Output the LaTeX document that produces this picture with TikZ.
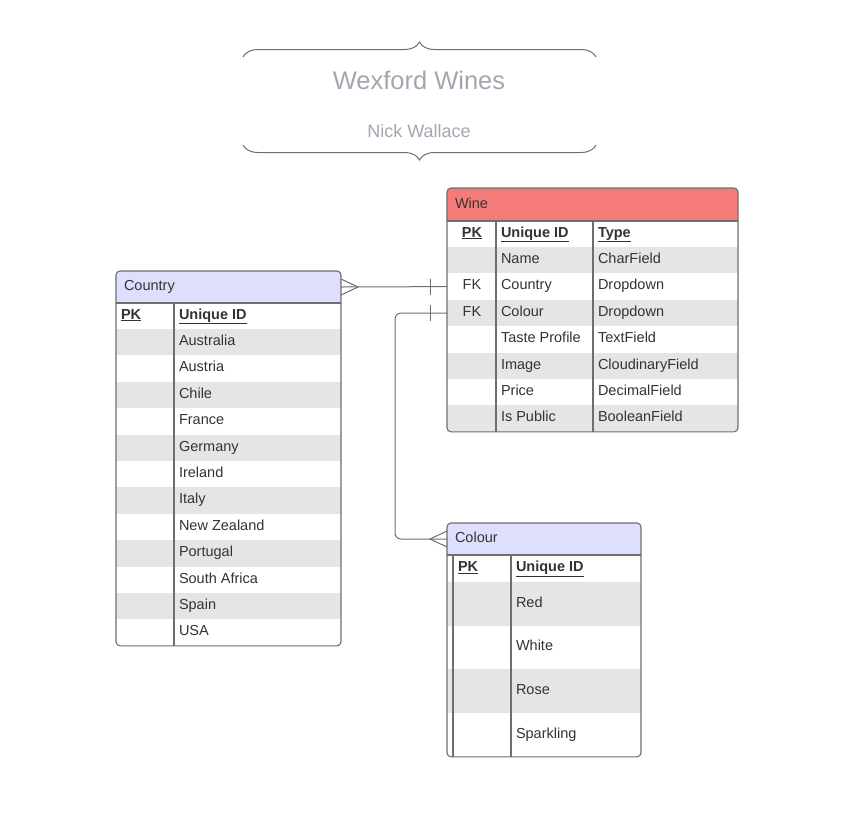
\documentclass[tikz,border=0pt]{standalone}
\usepackage{fontspec}
\setmainfont{Liberation Sans}
\usetikzlibrary{positioning, calc, decorations.pathreplacing}

\definecolor{winered}{HTML}{F47B77}
\definecolor{headblue}{HTML}{DEDEFD}
\definecolor{rowgrey}{HTML}{E5E5E5}
\definecolor{edgegrey}{HTML}{6E6E6E}
\definecolor{inkgrey}{HTML}{333333}
\definecolor{titlegrey}{HTML}{A2A6AF}

\begin{document}
\begin{tikzpicture}[
    x=1pt, y=-1pt, % one unit per pixel, y going down
    every node/.style={outer sep=0pt, text=inkgrey, font=\fontsize{14.5}{17}\selectfont},
    headbox/.style={rectangle, minimum height=32pt, inner sep=0pt},
    rowbox/.style={rectangle, minimum height=26.4pt, inner sep=0pt},
    cell/.style={inner sep=0pt, text height=10.4pt, text depth=0pt},
    frame/.style={draw=edgegrey, line width=1.1pt},
    link/.style={draw=edgegrey, line width=1pt},
    curly/.style={draw=edgegrey, line width=1pt, decorate, decoration={brace, amplitude=15pt}}
]
    \useasboundingbox (0,0) rectangle (854,815);

    % Title block
    \node[text=titlegrey, font=\fontsize{25.5}{30}\selectfont] (title) at (419,80) {Wexford Wines};
    \node[text=titlegrey, font=\fontsize{18}{22}\selectfont] (author) at (419,131) {Nick Wallace};
    \draw[curly] (243,57) -- (596,57);
    \draw[curly] (596,145) -- (243,145);

    % Wine table
    \begin{scope}
        \clip[rounded corners=4pt] (447,188) rectangle (738,432);
        \node[headbox, fill=winered, minimum width=291pt, minimum height=33pt, anchor=north west] (winehead) at (447,188) {};
        \node[rowbox, minimum width=291pt, minimum height=26pt, below=0pt of winehead] (wine0) {};
        \foreach \shade/\key/\field/\kind [count=\i] in {rowgrey/{}/Name/CharField, white/FK/Country/Dropdown,
            rowgrey/FK/Colour/Dropdown, white/{}/Taste Profile/TextField, rowgrey/{}/Image/CloudinaryField,
            white/{}/Price/DecimalField, rowgrey/{}/Is Public/BooleanField} {
            \pgfmathtruncatemacro\prev{\i-1}
            \node[rowbox, fill=\shade, minimum width=291pt, below=0pt of wine\prev] (wine\i) {};
            \node[cell] (winekey\i) at ([xshift=25pt, yshift=2pt]wine\i.west) {\key};
            \node[cell, anchor=west] (winefield\i) at ([xshift=54pt, yshift=2pt]wine\i.west) {\field};
            \node[cell, anchor=west] (winekind\i) at ([xshift=151pt, yshift=2pt]wine\i.west) {\kind};
        }
    \end{scope}
    \node[cell, anchor=west] (winetitle) at ([xshift=8pt, yshift=1.5pt]winehead.west) {Wine};
    \node[cell] (winepk) at ([xshift=25pt, yshift=2pt]wine0.west) {\underline{\textbf{PK}}};
    \node[cell, anchor=west] (wineid) at ([xshift=54pt, yshift=2pt]wine0.west) {\underline{\textbf{Unique ID}}};
    \node[cell, anchor=west] (winetype) at ([xshift=151pt, yshift=2pt]wine0.west) {\underline{\textbf{Type}}};
    \draw[frame] (winehead.south west) -- (winehead.south east);
    \draw[frame] ([xshift=49pt]wine0.north west) -- ([xshift=49pt]wine7.south west);
    \draw[frame] ([xshift=146pt]wine0.north west) -- ([xshift=146pt]wine7.south west);
    \draw[frame, rounded corners=4pt] (winehead.north west) rectangle (wine7.south east);

    % Country table
    \begin{scope}
        \clip[rounded corners=4pt] (116,271) rectangle (341,646);
        \node[headbox, fill=headblue, minimum width=225pt, anchor=north west] (countryhead) at (116,271) {};
        \node[rowbox, minimum width=225pt, minimum height=26pt, below=0pt of countryhead] (country0) {};
        \foreach \place [count=\i] in {Australia, Austria, Chile, France, Germany, Ireland, Italy,
            New Zealand, Portugal, South Africa, Spain, USA} {
            \pgfmathtruncatemacro\prev{\i-1}
            \ifodd\i \def\shade{rowgrey}\else \def\shade{white}\fi
            \node[rowbox, fill=\shade, minimum width=225pt, below=0pt of country\prev] (country\i) {};
            \node[cell, anchor=west] (countryname\i) at ([xshift=63pt, yshift=2pt]country\i.west) {\place};
        }
    \end{scope}
    \node[cell, anchor=west] (countrytitle) at ([xshift=8pt, yshift=1.5pt]countryhead.west) {Country};
    \node[cell, anchor=west] (countrypk) at ([xshift=5pt, yshift=2pt]country0.west) {\underline{\textbf{PK}}};
    \node[cell, anchor=west] (countryid) at ([xshift=63pt, yshift=2pt]country0.west) {\underline{\textbf{Unique ID}}};
    \draw[frame] (countryhead.south west) -- (countryhead.south east);
    \draw[frame] ([xshift=58pt]country0.north west) -- ([xshift=58pt]country12.south west);
    \draw[frame, rounded corners=4pt] (countryhead.north west) rectangle (country12.south east);

    % Colour table
    \begin{scope}
        \clip[rounded corners=4pt] (447,523) rectangle (641,757);
        \node[headbox, fill=headblue, minimum width=194pt, anchor=north west] (colourhead) at (447,523) {};
        \node[rowbox, minimum width=194pt, minimum height=27pt, below=0pt of colourhead] (colour0) {};
        \foreach \hue [count=\i] in {Red, White, Rose, Sparkling} {
            \pgfmathtruncatemacro\prev{\i-1}
            \ifodd\i \def\shade{rowgrey}\else \def\shade{white}\fi
            \node[rowbox, fill=\shade, minimum width=194pt, minimum height=43.7pt, below=0pt of colour\prev] (colour\i) {};
            \node[cell, anchor=west] (colourname\i) at ([xshift=69pt, yshift=2pt]colour\i.west) {\hue};
        }
    \end{scope}
    \node[cell, anchor=west] (colourtitle) at ([xshift=8pt, yshift=1.5pt]colourhead.west) {Colour};
    \node[cell, anchor=west] (colourpk) at ([xshift=11pt, yshift=2pt]colour0.west) {\underline{\textbf{PK}}};
    \node[cell, anchor=west] (colourid) at ([xshift=69pt, yshift=2pt]colour0.west) {\underline{\textbf{Unique ID}}};
    \draw[frame] (colourhead.south west) -- (colourhead.south east);
    \draw[frame] ([xshift=6pt]colour0.north west) -- ([xshift=6pt]colour4.south west);
    \draw[frame] ([xshift=64pt]colour0.north west) -- ([xshift=64pt]colour4.south west);
    \draw[frame, rounded corners=4pt] (colourhead.north west) rectangle (colour4.south east);

    % Country -- Wine (many to one)
    \draw[link] (countryhead.east) -- (wine2.west);
    \draw[link] ($(countryhead.east)+(0,-8)$) -- ($(countryhead.east)+(17,0)$) -- ($(countryhead.east)+(0,8)$);
    \draw[link] ($(wine2.west)+(-17,-8)$) -- ++(0,16);

    % Colour -- Wine (many to one)
    \draw[link, rounded corners=6pt] (wine3.west) -- ++(-52,0) |- (colourhead.west);
    \draw[link] ($(wine3.west)+(-17,-8)$) -- ++(0,16);
    \draw[link] ($(colourhead.west)+(0,-8)$) -- ($(colourhead.west)+(-17,0)$) -- ($(colourhead.west)+(0,8)$);
\end{tikzpicture}
\end{document}
